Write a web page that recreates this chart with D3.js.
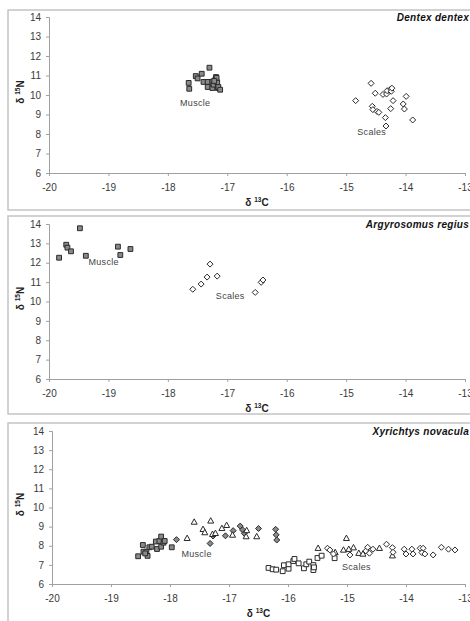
<!DOCTYPE html>
<html><head><meta charset="utf-8">
<script src="https://cdn.jsdelivr.net/npm/d3@7"></script>
<style>
html,body{margin:0;padding:0;background:#fff;overflow:hidden;}
svg{display:block;font-family:"Liberation Sans",Arial,sans-serif;}
</style></head>
<body>
<svg id="chart" width="470" height="621"></svg>
<script>
// ---------- data ----------
const xTicks = [-20,-19,-18,-17,-16,-15,-14,-13];
const yTicks = [6,7,8,9,10,11,12,13,14];
const panelTitles = ["Dentex dentex","Argyrosomus regius","Xyrichtys novacula"];

// Panel 1: Dentex dentex
const dentexMuscle = [[-17.65,10.62],[-17.64,10.32],[-17.53,10.97],[-17.50,10.85],[-17.43,11.09],[-17.30,11.40],
  [-17.40,10.67],[-17.33,10.67],[-17.33,10.41],[-17.25,10.68],[-17.25,10.36],[-17.23,10.53],[-17.20,10.79],
  [-17.19,10.92],[-17.17,10.65],[-17.16,10.36],[-17.15,10.41],[-17.12,10.27],[-17.18,10.88],[-17.22,10.72]];
const dentexScales = [[-14.84,9.71],[-14.58,10.60],[-14.51,10.09],[-14.56,9.42],[-14.55,9.25],[-14.48,9.16],
  [-14.45,9.11],[-14.38,10.03],[-14.32,10.05],[-14.31,10.22],[-14.25,10.31],[-14.24,10.19],[-14.21,9.71],
  [-14.25,9.30],[-14.34,8.84],[-14.33,8.41],[-14.04,9.54],[-14.02,9.28],[-13.99,9.93],[-13.88,8.72],[-14.23,10.35]];

// Panel 2: Argyrosomus regius
const argyMuscle = [[-19.83,12.26],[-19.71,12.93],[-19.69,12.78],[-19.63,12.59],[-19.48,13.78],[-19.38,12.36],
  [-18.84,12.83],[-18.80,12.40],[-18.63,12.71]];
const argyScales = [[-17.58,10.63],[-17.44,10.90],[-17.34,11.26],[-17.29,11.93],[-17.17,11.31],[-16.53,10.47],
  [-16.43,10.99],[-16.40,11.11]];

// Panel 3: Xyrichtys novacula
const xyrMuscleSq = [[-18.54,7.45],[-18.46,8.04],[-18.45,7.69],[-18.40,7.69],[-18.38,7.47],[-18.35,7.92],
  [-18.31,7.95],[-18.24,8.22],[-18.22,7.83],[-18.18,8.25],[-18.15,8.48],[-18.15,7.95],[-18.11,8.16],
  [-18.09,8.25],[-17.97,7.92],[-18.42,7.60]];
const xyrMuscleDia = [[-17.89,8.32],[-17.32,8.12],[-17.27,8.51],[-17.06,8.52],[-16.93,8.79],[-16.81,9.03],
  [-16.77,8.83],[-16.74,8.65],[-16.50,8.90],[-16.21,8.86],[-16.20,8.57],[-16.19,8.30]];
const xyrMuscleTri = [[-17.71,8.39],[-17.59,9.24],[-17.44,8.86],[-17.41,8.69],[-17.31,9.30],[-17.28,8.60],
  [-17.12,8.91],[-17.04,9.07],[-16.94,8.56],[-16.71,8.48],[-16.53,8.48],[-17.23,8.65],[-16.70,8.80]];
const xyrScalesSq = [[-16.33,6.84],[-16.26,6.77],[-16.20,6.75],[-16.09,6.67],[-16.07,6.98],[-15.99,6.80],
  [-15.99,7.03],[-15.91,7.20],[-15.89,7.31],[-15.82,7.08],[-15.73,6.82],[-15.69,7.03],[-15.64,7.17],
  [-15.57,6.99],[-15.57,6.73],[-15.56,6.87],[-15.50,7.36],[-15.43,7.48],[-15.21,7.35]];
const xyrScalesTri = [[-15.49,7.87],[-15.20,7.65],[-15.06,7.78],[-15.01,8.39],[-14.89,7.90],[-14.80,7.61],
  [-14.73,7.57],[-14.45,7.87],[-14.23,7.48],[-14.97,7.82]];
const xyrScalesDia = [[-15.33,7.87],[-15.29,7.78],[-15.23,7.57],[-14.95,7.52],[-14.68,7.73],[-14.65,7.92],
  [-14.62,7.61],[-14.56,7.82],[-14.33,8.08],[-14.23,7.90],[-14.22,7.66],[-14.03,7.82],[-14.00,7.57],
  [-13.90,7.82],[-13.88,7.57],[-13.76,7.87],[-13.71,7.87],[-13.73,7.64],[-13.68,7.57],[-13.54,7.52],
  [-13.40,7.92],[-13.28,7.82],[-13.17,7.78]];

// ---------- drawing ----------
const svg = d3.select("#chart");
const panels = [
  {box:[8,10,480,200], x:[49,465], y:[173,17], title:panelTitles[0],
   series:[{d:dentexMuscle,s:"sq",fill:"#8a8a8a"},{d:dentexScales,s:"dia",fill:"#fff"}],
   labels:[{t:"Muscle",x:-17.54,y:9.62},{t:"Scales",x:-14.57,y:8.13}]},
  {box:[8,216,480,198], x:[49,465], y:[379,224], title:panelTitles[1],
   series:[{d:argyMuscle,s:"sq",fill:"#8a8a8a"},{d:argyScales,s:"dia",fill:"#fff"}],
   labels:[{t:"Muscle",x:-19.08,y:12.03},{t:"Scales",x:-16.95,y:10.31}]},
  {box:[8,423,480,210], x:[52,465], y:[584,431], title:panelTitles[2],
   series:[{d:xyrMuscleSq,s:"sq",fill:"#8a8a8a"},{d:xyrMuscleDia,s:"dia",fill:"#8a8a8a"},
           {d:xyrMuscleTri,s:"tri",fill:"#fff"},{d:xyrScalesSq,s:"sq",fill:"#fff"},
           {d:xyrScalesTri,s:"tri",fill:"#fff"},{d:xyrScalesDia,s:"dia",fill:"#fff"}],
   labels:[{t:"Muscle",x:-17.55,y:7.6},{t:"Scales",x:-14.84,y:6.92}]}
];

const sym = {
  sq: "M-2.4,-2.4L2.4,-2.4L2.4,2.4L-2.4,2.4Z",
  dia: "M0,-3L3,0L0,3L-3,0Z",
  tri: "M0,-3.2L3,2.2L-3,2.2Z"
};

panels.forEach(p => {
  const g = svg.append("g");
  g.append("rect").attr("x",p.box[0]).attr("y",p.box[1]).attr("width",p.box[2]).attr("height",p.box[3])
    .attr("fill","#fff").attr("stroke","#c4c4c4").attr("stroke-width",1.5);
  const x = d3.scaleLinear().domain([-20,-13]).range(p.x);
  const y = d3.scaleLinear().domain([6,14]).range(p.y);

  const xa = g.append("g").attr("transform",`translate(0,${p.y[0]})`)
    .call(d3.axisBottom(x).tickValues(xTicks).tickSize(3).tickPadding(6).tickFormat(d=>d));
  const ya = g.append("g").attr("transform",`translate(${p.x[0]},0)`)
    .call(d3.axisLeft(y).tickValues(yTicks).tickSize(3).tickPadding(5).tickFormat(d=>d));
  [xa,ya].forEach(a=>{
    a.select(".domain").attr("stroke","#a0a0a0");
    a.selectAll(".tick line").attr("stroke","#a0a0a0");
    a.selectAll(".tick text").attr("fill","#3a3a3a").attr("font-size",10)
      .attr("font-family","'Liberation Sans',Arial,sans-serif");
  });
  xa.selectAll(".tick text").attr("dy","0.9em");

  // axis titles
  const xt = g.append("text").attr("x",(p.x[0]+p.x[1])/2).attr("y",p.y[0]+33)
    .attr("text-anchor","middle").attr("font-size",10).attr("font-weight","bold").attr("fill","#222");
  xt.append("tspan").text("δ ");
  xt.append("tspan").text("13").attr("font-size",6.5).attr("dy",-4);
  xt.append("tspan").text("C").attr("dy",4);

  const cy = (p.y[0]+p.y[1])/2 - 3;
  const yt = g.append("text").attr("transform",`translate(24,${cy}) rotate(-90)`)
    .attr("text-anchor","middle").attr("font-size",10).attr("font-weight","bold").attr("fill","#222");
  yt.append("tspan").text("δ ");
  yt.append("tspan").text("15").attr("font-size",6.5).attr("dy",-4);
  yt.append("tspan").text("N").attr("dy",4);

  // title
  g.append("text").attr("x",469).attr("y",p.y[1]+4).attr("text-anchor","end")
    .attr("font-size",10).attr("font-weight","bold").attr("font-style","italic")
    .attr("fill","#111").attr("letter-spacing",0.3).text(p.title);

  // points
  p.series.forEach(s=>{
    g.append("g").selectAll("path").data(s.d).join("path")
      .attr("d",sym[s.s])
      .attr("transform",d=>`translate(${x(d[0])},${y(d[1])})`)
      .attr("fill",s.fill).attr("stroke","#2a2a2a").attr("stroke-width",1);
  });

  // group labels
  p.labels.forEach(l=>{
    g.append("text").attr("x",x(l.x)).attr("y",y(l.y)).attr("dy","0.35em")
      .attr("text-anchor","middle").attr("font-size",9).attr("fill","#444")
      .attr("letter-spacing",0.3).text(l.t);
  });
});
</script>
</body></html>
